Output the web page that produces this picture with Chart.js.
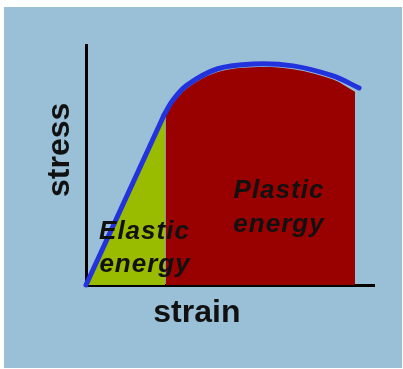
<!DOCTYPE html>
<html>
<head>
<meta charset="utf-8">
<script src="https://cdn.jsdelivr.net/npm/chart.js@4"></script>
<style>
  body { margin: 0; background: #fff; }
  #wrap { position: absolute; left: 4px; top: 7px; width: 398px; height: 361px; background: #9ac0d8; }
</style>
</head>
<body>
<div id="wrap"><canvas id="myChart" width="398" height="361"></canvas></div>
<script>
// stress-strain curve (arbitrary units, 0..100 on both axes)
// elastic (straight) part
const linStrain = [0, 27.1];
const linStress = [0, 70.8];
// plastic (curved) part, yield point to fracture
const curveStrain = [27.1, 30.2, 35.1, 45.5, 58.0, 71.9, 85.8, 94.8];
const curveStress = [70.8, 77.1, 83.3, 90.0, 92.1, 91.3, 87.1, 82.1];

// elastic region (triangle under the straight part)
const elasticStrain = [0, 27.4];
const elasticStress = [0, 70.0];

// plastic region (under the curve, up to fracture)
const plasticStrain = [27.6, 30.2, 35.1, 45.5, 58.0, 71.9, 85.8, 93.4];
const plasticStress = [71.5, 75.8, 82.0, 88.6, 90.7, 89.9, 85.6, 80.5];

const labels = [
    { text: 'stress', x: -9.0, y: 56.3, rot: true, italic: false, size: 32 },
    { text: 'strain', x: 38.5, y: -11.7, rot: false, italic: false, size: 32 },
    { text: 'Plastic', x: 67.0, y: 39.2, rot: false, italic: true, size: 26 },
    { text: 'energy', x: 67.0, y: 25.0, rot: false, italic: true, size: 26 },
    { text: 'Elastic', x: 20.3, y: 22.0, rot: false, italic: true, size: 26 },
    { text: 'energy', x: 20.5, y: 8.3, rot: false, italic: true, size: 26 }
];

function toPoints(xs, ys) {
    return xs.map((x, i) => ({ x: x, y: ys[i] }));
}

const textPlugin = {
    id: 'texts',
    afterDraw(chart) {
        const ctx = chart.ctx;
        const sx = chart.scales.x, sy = chart.scales.y;
        labels.forEach(l => {
            ctx.save();
            ctx.fillStyle = '#111';
            ctx.font = (l.italic ? 'italic ' : '') + 'bold ' + l.size + 'px "Liberation Sans", Arial, sans-serif';
            ctx.letterSpacing = l.italic ? '1px' : '0px';
            ctx.textAlign = 'center';
            ctx.textBaseline = 'middle';
            ctx.translate(sx.getPixelForValue(l.x), sy.getPixelForValue(l.y));
            if (l.rot) ctx.rotate(-Math.PI / 2);
            ctx.fillText(l.text, 0, 0);
            ctx.restore();
        });
    }
};

const lineStyle = {
    showLine: true,
    borderColor: '#2233dd',
    borderWidth: 5,
    borderCapStyle: 'round',
    pointRadius: 0,
    fill: false,
    clip: 10,
    order: 0
};

const ctx = document.getElementById('myChart').getContext('2d');
new Chart(ctx, {
    type: 'scatter',
    data: {
        datasets: [
            Object.assign({ data: toPoints(linStrain, linStress), tension: 0 }, lineStyle),
            Object.assign({ data: toPoints(curveStrain, curveStress), tension: 0.35 }, lineStyle),
            {
                data: toPoints(plasticStrain, plasticStress),
                showLine: true,
                borderWidth: 0,
                borderColor: 'rgba(0,0,0,0)',
                backgroundColor: '#990000',
                pointRadius: 0,
                tension: 0.35,
                fill: 'origin',
                order: 1
            },
            {
                data: toPoints(elasticStrain, elasticStress),
                showLine: true,
                borderWidth: 0,
                borderColor: 'rgba(0,0,0,0)',
                backgroundColor: '#99bb00',
                pointRadius: 0,
                fill: 'origin',
                order: 2
            }
        ]
    },
    options: {
        responsive: false,
        animation: false,
        layout: { padding: { left: 82, right: 28, top: 38, bottom: 83 } },
        plugins: { legend: { display: false }, tooltip: { enabled: false } },
        scales: {
            x: {
                type: 'linear', min: 0, max: 100,
                grid: { display: false, drawTicks: false },
                ticks: { display: false },
                border: { display: true, color: '#000', width: 3 }
            },
            y: {
                type: 'linear', min: 0, max: 100,
                grid: { display: false, drawTicks: false },
                ticks: { display: false },
                border: { display: true, color: '#000', width: 3 }
            }
        }
    },
    plugins: [textPlugin]
});
</script>
</body>
</html>
